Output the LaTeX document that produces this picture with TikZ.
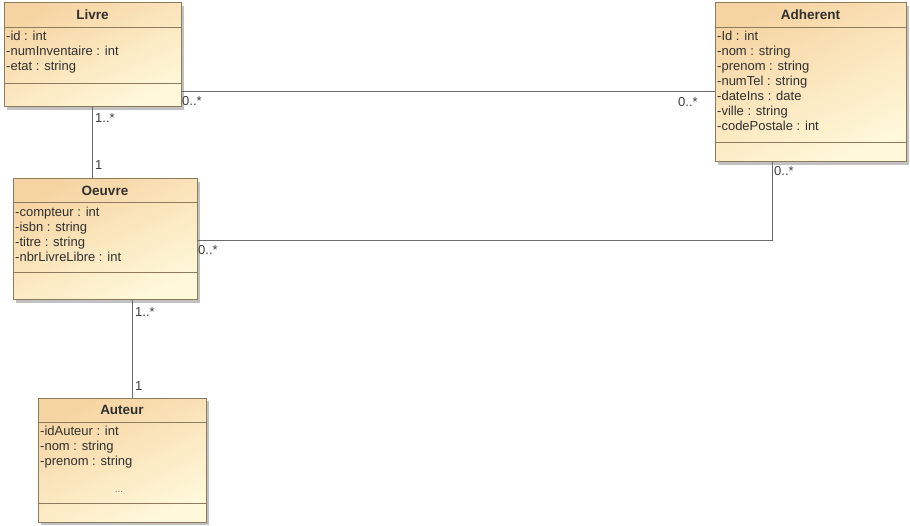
\documentclass[tikz,border=0pt]{standalone}
\usepackage{fontspec}
\setmainfont{Liberation Sans}
\usetikzlibrary{shadows}

\definecolor{classtop}{HTML}{F6D4A2}
\definecolor{classbot}{HTML}{FFF9DA}
\definecolor{classline}{HTML}{8E7B5E}
\definecolor{assocline}{HTML}{6A6A6A}
\definecolor{txtgray}{HTML}{303030}

\tikzset{
  classbox/.style={draw=classline, line width=1pt, inner sep=0pt, outer sep=0pt,
    top color=classtop, bottom color=classbot, shading angle=25,
    drop shadow={shadow xshift=3pt, shadow yshift=-3pt, fill=black!35, opacity=0.7}},
  divider/.style={draw=classline, line width=0.9pt},
  title/.style={inner sep=0pt, font=\fontsize{13.5}{15}\selectfont\bfseries, text=txtgray},
  attr/.style={anchor=west, inner sep=0pt, font=\fontsize{13}{15}\selectfont,
    text=txtgray, text height=9pt, text depth=2.5pt},
  mult/.style={attr, text=black!75},
  assoc/.style={draw=assocline, line width=0.9pt},
}

\begin{document}
\begin{tikzpicture}[x=1pt,y=-1pt]
	\useasboundingbox (0,0) rectangle (910,526);
	%\draw[help lines] (0,0) grid[step=50] (910,526);

	% Livre
	\node[classbox, minimum width=177pt, minimum height=104pt] (livre) at (92.5,55) {};
	\draw[divider] (livre.west |- 0,27) -- (livre.east |- 0,27);
	\draw[divider] (livre.west |- 0,83) -- (livre.east |- 0,83);
	\node[title] (livre-title) at (92.5,15) {Livre};
	\foreach \txt [count=\i from 0] in {-id : int, -numInventaire : int, -etat : string}
		\node[attr] (livre-a\i) at (6,37+15*\i) {\txt};

	% Adherent
	\node[classbox, minimum width=191pt, minimum height=159pt] (adherent) at (810.5,82.5) {};
	\draw[divider] (adherent.west |- 0,27) -- (adherent.east |- 0,27);
	\draw[divider] (adherent.west |- 0,142) -- (adherent.east |- 0,142);
	\node[title] (adherent-title) at (810.5,15) {Adherent};
	\foreach \txt [count=\i from 0] in {-Id : int, -nom : string, -prenom : string,
		-numTel : string, -dateIns : date, -ville : string, -codePostale : int}
		\node[attr] (adherent-a\i) at (717,37+15*\i) {\txt};

	% Oeuvre
	\node[classbox, minimum width=184pt, minimum height=121pt] (oeuvre) at (105,239.5) {};
	\draw[divider] (oeuvre.west |- 0,202) -- (oeuvre.east |- 0,202);
	\draw[divider] (oeuvre.west |- 0,272) -- (oeuvre.east |- 0,272);
	\node[title] (oeuvre-title) at (105,190.5) {Oeuvre};
	\foreach \txt [count=\i from 0] in {-compteur : int, -isbn : string, -titre : string,
		-nbrLivreLibre : int}
		\node[attr] (oeuvre-a\i) at (15,213+15*\i) {\txt};

	% Auteur
	\node[classbox, minimum width=168pt, minimum height=124pt] (auteur) at (122,460) {};
	\draw[divider] (auteur.west |- 0,422) -- (auteur.east |- 0,422);
	\draw[divider] (auteur.west |- 0,503) -- (auteur.east |- 0,503);
	\node[title] (auteur-title) at (122,410) {Auteur};
	\foreach \txt [count=\i from 0] in {-idAuteur : int, -nom : string, -prenom : string}
		\node[attr] (auteur-a\i) at (40,432+15*\i) {\txt};
	\node[inner sep=0pt, font=\fontsize{10}{10}\selectfont, text=black!60] (auteur-more) at (119,492) {...};

	% associations
	\draw[assoc] (livre.east |- 0,91) -- (adherent.west |- 0,91);
	\draw[assoc] (92,0 |- livre.south) -- (92,0 |- oeuvre.north);
	\draw[assoc] (132,0 |- oeuvre.south) -- (132,0 |- auteur.north);
	\draw[assoc] (oeuvre.east |- 0,240) -| (772,0 |- adherent.south);

	% multiplicities
	\node[mult] (m-livre-adh) at (182,102) {0..*};
	\node[mult] (m-adh-livre) at (678,103) {0..*};
	\node[mult] (m-livre-oeu) at (95,119) {1..*};
	\node[mult] (m-oeu-livre) at (95,166) {1};
	\node[mult] (m-oeu-aut) at (135,313) {1..*};
	\node[mult] (m-aut-oeu) at (135,387) {1};
	\node[mult] (m-oeu-adh) at (198,251) {0..*};
	\node[mult] (m-adh-oeu) at (774,172) {0..*};
\end{tikzpicture}
\end{document}
